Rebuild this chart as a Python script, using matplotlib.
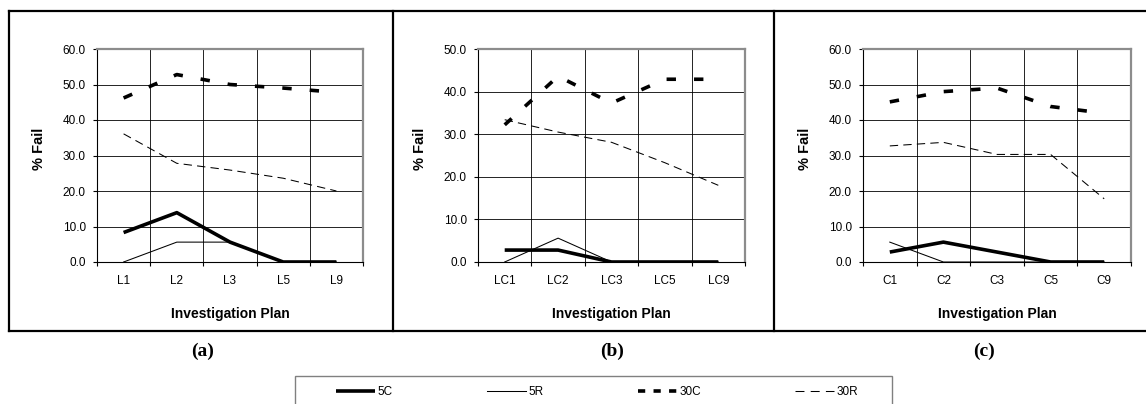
import numpy as np
import matplotlib
matplotlib.use('Agg')
from matplotlib import pyplot as plt
from matplotlib.lines import Line2D
from matplotlib.patches import Rectangle
from matplotlib.ticker import FixedLocator, FormatStrFormatter

plt.rcParams['font.family'] = ['Liberation Sans', 'DejaVu Sans']

# data
cats_a = ['L1', 'L2', 'L3', 'L5', 'L9']
a_5c = [8.3, 13.9, 5.6, 0.0, 0.0]
a_5r = [0.0, 5.6, 5.6, 0.0, 0.0]
a_30c = [46.2, 52.8, 50.0, 49.0, 47.8]
a_30r = [36.1, 27.8, 25.9, 23.6, 20.0]

cats_b = ['LC1', 'LC2', 'LC3', 'LC5', 'LC9']
b_5c = [2.8, 2.8, 0.0, 0.0, 0.0]
b_5r = [0.0, 5.6, 0.0, 0.0, 0.0]
b_30c = [32.2, 43.6, 37.3, 42.9, 42.9]
b_30r = [33.4, 30.5, 28.1, 23.3, 18.0]

cats_c = ['C1', 'C2', 'C3', 'C5', 'C9']
c_5c = [2.8, 5.6, 2.8, 0.0, 0.0]
c_5r = [5.6, 0.0, 0.0, 0.0, 0.0]
c_30c = [45.1, 48.0, 49.0, 43.8, 41.9]
c_30r = [32.7, 33.7, 30.3, 30.3, 17.8]

series_names = ['5C', '5R', '30C', '30R']
ymax = [60, 50, 60]
panel_tags = ['(a)', '(b)', '(c)']

W, H = 1146, 404
fig = plt.figure(figsize=(W / 100, H / 100), dpi=100)

def fx(px):
    return px / W

def fy(py):
    return 1 - py / H

# axes boxes in pixels: left, right (top 49, bottom 262)
boxes = [(97, 363), (478, 745), (863, 1131)]
top_px, bot_px = 49, 262

styles = {
    '5C': dict(color='black', lw=2.6, solid_capstyle='butt'),
    '5R': dict(color='black', lw=0.75),
    '30C': dict(color='black', lw=2.6, dashes=(2.6, 5.0), dash_capstyle='butt'),
    '30R': dict(color='black', lw=0.75, dashes=(8, 5)),
}
# legend keys use shorter dashes, as excel draws them
leg_styles = {
    '5C': dict(color='black', lw=2.6, solid_capstyle='butt'),
    '5R': dict(color='black', lw=0.75),
    '30C': dict(color='black', lw=2.6, dashes=(2.0, 2.3), dash_capstyle='butt'),
    '30R': dict(color='black', lw=0.75, dashes=(8.6, 6)),
}

panels = [
    (cats_a, [a_5c, a_5r, a_30c, a_30r]),
    (cats_b, [b_5c, b_5r, b_30c, b_30r]),
    (cats_c, [c_5c, c_5r, c_30c, c_30r]),
]

for i, (cats, series) in enumerate(panels):
    l, r = boxes[i]
    ax = fig.add_axes([fx(l), fy(bot_px), fx(r - l), (bot_px - top_px) / H])
    x = np.arange(len(cats))
    for name, ys in zip(series_names, series):
        ax.plot(x, ys, zorder=3, label=name, **styles[name])
    ax.set_xlim(-0.5, len(cats) - 0.5)
    ax.set_ylim(0, ymax[i])
    ax.set_yticks(np.arange(0, ymax[i] + 1, 10))
    ax.yaxis.set_major_formatter(FormatStrFormatter('%.1f'))
    ax.set_xticks(x)
    ax.set_xticklabels(cats)
    ax.xaxis.set_minor_locator(FixedLocator(np.arange(-0.5, len(cats), 1.0)))
    ax.tick_params(axis='x', which='major', length=0, pad=9, labelsize=8.5)
    ax.tick_params(axis='x', which='minor', length=3, width=0.8, direction='out')
    ax.tick_params(axis='y', length=3, width=0.8, direction='out', pad=5, labelsize=8.5)
    ax.grid(True, axis='x', which='minor', color='black', lw=0.6, zorder=1)
    ax.grid(True, axis='y', which='major', color='black', lw=0.6, zorder=1)
    ax.set_axisbelow(True)
    for s in ['left', 'bottom']:
        ax.spines[s].set_color('black')
        ax.spines[s].set_linewidth(0.8)
    for s in ['top', 'right']:
        ax.spines[s].set_color('#8c8c8c')
        ax.spines[s].set_linewidth(1.6)
    ax.set_ylabel('% Fail', fontsize=10.5, fontweight='bold')
    ax.yaxis.set_label_coords(-0.19, 0.53)
    ax.set_xlabel('Investigation Plan', fontsize=10, fontweight='bold')
    ax.xaxis.set_label_coords(0.5, -0.21)

# panel frames
lw_frame = 1.6
fig.add_artist(Line2D([fx(9), 1.0], [fy(10.5), fy(10.5)], color='black', lw=lw_frame))
fig.add_artist(Line2D([fx(9), 1.0], [fy(331), fy(331)], color='black', lw=lw_frame))
for xp in [9, 393, 774]:
    fig.add_artist(Line2D([fx(xp), fx(xp)], [fy(10.5), fy(331)], color='black', lw=lw_frame))

# panel tags
for tag, xp in zip(panel_tags, [203, 612, 984]):
    fig.text(fx(xp), fy(351), tag, ha='center', va='center', fontsize=14,
             fontweight='bold', family=['Liberation Serif', 'DejaVu Serif'])

# legend frame, cut at the bottom edge like the source
fig.add_artist(Rectangle((fx(295), fy(420)), fx(892 - 295), (420 - 376) / H,
                         fill=False, edgecolor='#808080', lw=1.0))
handles = [Line2D([], [], **leg_styles[n]) for n in series_names]
fig.legend(handles, series_names, loc='center left', bbox_to_anchor=(fx(336), fy(392)),
           ncol=4, frameon=False, fontsize=8.5, handlelength=3.3, handletextpad=0.2,
           columnspacing=8.0, borderpad=0, borderaxespad=0)

fig.savefig('out.png', dpi=100)
